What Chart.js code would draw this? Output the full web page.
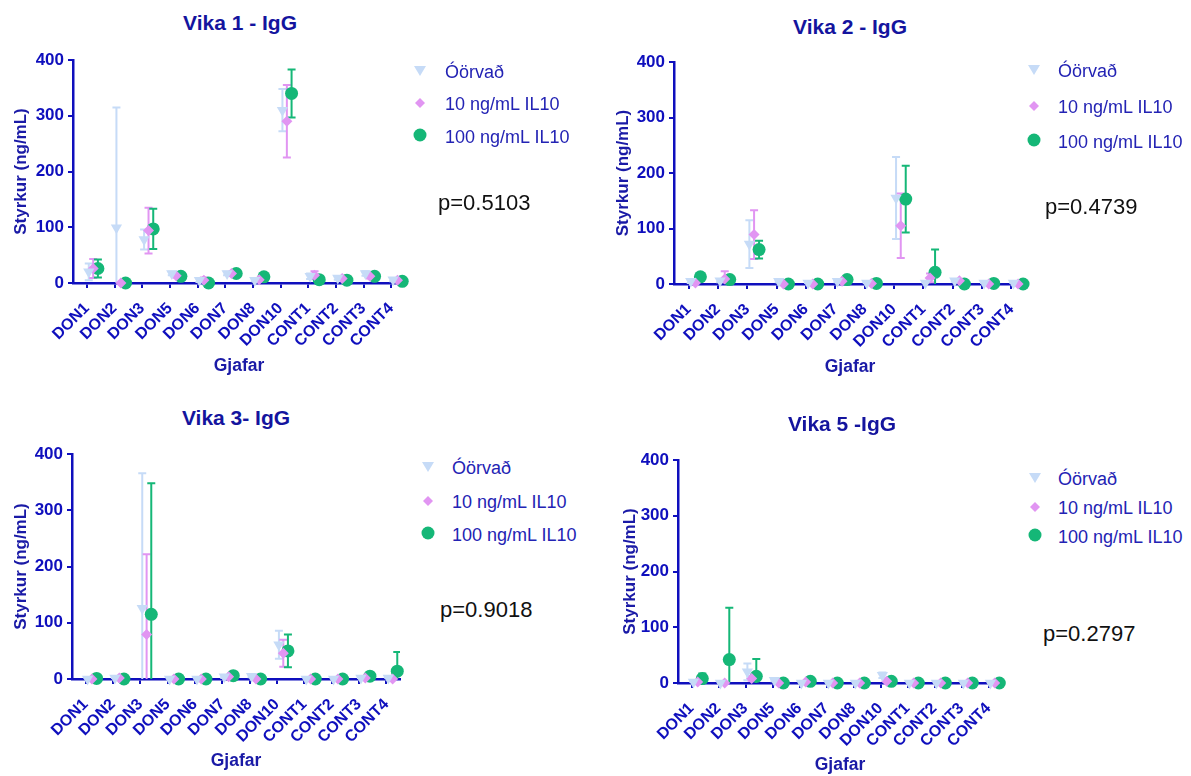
<!DOCTYPE html>
<html lang="is">
<head>
  <meta charset="UTF-8" />
  <title>IgG - Vika 1, 2, 3, 5</title>
  <script src="https://cdn.jsdelivr.net/npm/chart.js"></script>
  <style>
    * { box-sizing: border-box; }
    body {
      margin: 0;
      background: #ffffff;
      font-family: 'Liberation Sans', Arial, sans-serif;
    }
    #wrap {
      position: relative;
      width: 1191px;
      height: 776px;
      overflow: hidden;
    }
    canvas { position: absolute; }
    .title {
      position: absolute;
      transform: translate(-50%, -50%);
      font-size: 21px;
      font-weight: bold;
      color: #14149e;
      white-space: nowrap;
    }
    .leg {
      position: absolute;
      transform: translateY(-50%);
      font-size: 18px;
      color: #2323b4;
      white-space: nowrap;
    }
    .mark {
      position: absolute;
      transform: translate(-50%, -50%);
    }
    .pval {
      position: absolute;
      transform: translateY(-50%);
      font-size: 22px;
      color: #111;
      white-space: nowrap;
    }
  </style>
</head>
<body>
  <div id="wrap"></div>

  <script>
    const categories = ['DON1', 'DON2', 'DON3', 'DON5', 'DON6', 'DON7', 'DON8', 'DON10', 'CONT1', 'CONT2', 'CONT3', 'CONT4'];
    const seriesNames = ['Óörvað', '10 ng/mL IL10', '100 ng/mL IL10'];
    const yTicks = [0, 100, 200, 300, 400];

    // Vika 1 (mean and SD)
    const v1Oorvad    = [20, 99, 78, 17, 5, 17, 5, 310, 12, 9, 17, 6];
    const v1OorvadSd  = [15, 216, 18, 3, 3, 3, 2, 38, 5, 3, 4, 3];
    const v1Il10      = [26, 0, 94, 13, 5, 17, 6, 290, 14, 8, 12, 5];
    const v1Il10Sd    = [17, 0, 41, 3, 5, 3, 3, 65, 7, 3, 4, 2];
    const v1Il100     = [26, 0, 97, 12, 0, 17, 11, 340, 6, 5, 12, 3];
    const v1Il100Sd   = [16, 0, 36, 2, 0, 2, 2, 43, 2, 1, 2, 1];

    // Vika 2
    const v2Oorvad    = [5, 6, 72, 5, 2, 5, 2, 155, 2, 6, 2, 2];
    const v2OorvadSd  = [3, 3, 43, 2, 1, 2, 1, 74, 3, 2, 1, 1];
    const v2Il10      = [2, 9, 89, 0, 0, 5, 1, 105, 11, 6, 0, 0];
    const v2Il10Sd    = [2, 14, 44, 0, 0, 2, 1, 58, 8, 2, 0, 0];
    const v2Il100     = [13, 8, 62, 0, 0, 8, 1, 153, 21, 0, 1, 0];
    const v2Il100Sd   = [2, 2, 16, 0, 0, 1, 1, 60, 41, 0, 0, 0];

    // Vika 3
    const v3Oorvad    = [0, 2, 126, 0, 0, 4, 5, 61, 0, 0, 2, 2];
    const v3OorvadSd  = [1, 1, 240, 0, 0, 2, 2, 25, 0, 0, 1, 1];
    const v3Il10      = [0, 2, 79, 0, 0, 4, 0, 46, 0, 0, 2, 0];
    const v3Il10Sd    = [0, 2, 143, 0, 0, 2, 0, 24, 0, 0, 1, 0];
    const v3Il100     = [1, 0, 115, 0, 0, 6, 0, 50, 0, 0, 5, 14];
    const v3Il100Sd   = [1, 0, 233, 0, 0, 2, 0, 29, 0, 0, 2, 34];

    // Vika 5
    const v5Oorvad    = [2, 0, 20, 5, 0, 0, 0, 14, 0, 0, 0, 0];
    const v5OorvadSd  = [2, 0, 15, 2, 0, 0, 0, 5, 0, 0, 0, 0];
    const v5Il10      = [2, 0, 8, 0, 2, 0, 0, 3, 0, 0, 0, 0];
    const v5Il10Sd    = [1, 0, 4, 0, 1, 0, 0, 1, 0, 0, 0, 0];
    const v5Il100     = [8, 42, 12, 0, 3, 0, 0, 3, 0, 0, 0, 0];
    const v5Il100Sd   = [9, 93, 31, 0, 4, 0, 0, 1, 0, 0, 0, 0];

    const pValues = ['p=0.5103', 'p=0.4739', 'p=0.9018', 'p=0.2797'];
    const titles = ['Vika 1 - IgG', 'Vika 2 - IgG', 'Vika 3- IgG', 'Vika 5 -IgG'];

    const colors = ['#c6dbf7', '#e195f2', '#15b777'];
    const styles = ['triangle', 'rectRot', 'circle'];
    const radii = [6.5, 5.5, 6.5];
    const rotations = [180, 0, 0];
    const offsets = [0.07, 0.23, 0.4];
    const axisBlue = '#0f0fbd';
    const textBlue = '#1a1aa6';
    const fontFam = "'Liberation Sans', Arial";

    const panels = [
      { left: 0, top: 40, width: 420, height: 345, area: { left: 73, top: 60, right: 405, bottom: 283 },
        yPad: 11, xPad: 8, titleX: 240, titleY: 23, markX: 420, textX: 445, legY: [72, 104, 137], pX: 438, pY: 203,
        series: [[v1Oorvad, v1OorvadSd], [v1Il10, v1Il10Sd], [v1Il100, v1Il100Sd]] },
      { left: 600, top: 40, width: 440, height: 345, area: { left: 674, top: 62, right: 1026, bottom: 284 },
        yPad: 13, xPad: 7, titleX: 850, titleY: 27, markX: 1034, textX: 1058, legY: [71, 107, 142], pX: 1045, pY: 207,
        series: [[v2Oorvad, v2OorvadSd], [v2Il10, v2Il10Sd], [v2Il100, v2Il100Sd]] },
      { left: 0, top: 430, width: 420, height: 346, area: { left: 72, top: 454, right: 400, bottom: 679 },
        yPad: 11, xPad: 4, titleX: 236, titleY: 418, markX: 428, textX: 452, legY: [468, 502, 535], pX: 440, pY: 610,
        series: [[v3Oorvad, v3OorvadSd], [v3Il10, v3Il10Sd], [v3Il100, v3Il100Sd]] },
      { left: 600, top: 430, width: 420, height: 346, area: { left: 678, top: 460, right: 1002, bottom: 683 },
        yPad: 20, xPad: 0, titleX: 842, titleY: 424, markX: 1035, textX: 1058, legY: [479, 508, 537], pX: 1043, pY: 634,
        series: [[v5Oorvad, v5OorvadSd], [v5Il10, v5Il10Sd], [v5Il100, v5Il100Sd]] }
    ];

    // error bars drawn under the markers, cut at the plot area
    const errorBars = {
      id: 'errorBars',
      beforeDatasetsDraw(chart) {
        const { ctx, chartArea, scales: { y } } = chart;
        ctx.save();
        ctx.beginPath();
        ctx.rect(chartArea.left, chartArea.top - 4, chartArea.right - chartArea.left, chartArea.bottom - chartArea.top + 4);
        ctx.clip();
        chart.data.datasets.forEach((ds, di) => {
          const meta = chart.getDatasetMeta(di);
          ctx.strokeStyle = ds.borderColor;
          ctx.lineWidth = 2;
          meta.data.forEach((pt, i) => {
            const sd = ds.errors[i];
            if (!sd) return;
            const v = ds.data[i].y;
            const yt = y.getPixelForValue(v + sd);
            const yb = y.getPixelForValue(v - sd);
            const x = pt.x;
            ctx.beginPath();
            ctx.moveTo(x, yt); ctx.lineTo(x, yb);
            ctx.moveTo(x - 4, yt); ctx.lineTo(x + 4, yt);
            ctx.moveTo(x - 4, yb); ctx.lineTo(x + 4, yb);
            ctx.stroke();
          });
        });
        ctx.restore();
      }
    };

    function markerSvg(k) {
      const c = colors[k];
      if (k === 0) return `<svg width="14" height="12"><polygon points="1,1 13,1 7,11" fill="${c}"/></svg>`;
      if (k === 1) return `<svg width="12" height="12"><polygon points="6,1 11,6 6,11 1,6" fill="${c}"/></svg>`;
      return `<svg width="14" height="14"><circle cx="7" cy="7" r="6.5" fill="${c}"/></svg>`;
    }

    const wrap = document.getElementById('wrap');

    panels.forEach((p, n) => {
      const canvas = document.createElement('canvas');
      canvas.width = p.width;
      canvas.height = p.height;
      canvas.style.left = p.left + 'px';
      canvas.style.top = p.top + 'px';
      wrap.appendChild(canvas);

      const yWidth = p.area.left - p.left;
      const xHeight = p.top + p.height - p.area.bottom;

      new Chart(canvas, {
        type: 'scatter',
        data: {
          datasets: p.series.map(([vals, sds], k) => ({
            label: seriesNames[k],
            data: vals.map((v, i) => ({ x: i + offsets[k], y: v })),
            errors: sds,
            backgroundColor: colors[k],
            borderColor: colors[k],
            borderWidth: 0,
            pointStyle: styles[k],
            pointRadius: radii[k],
            pointRotation: rotations[k],
            clip: false
          }))
        },
        options: {
          responsive: false,
          animation: false,
          events: [],
          layout: { padding: { left: 0, top: p.area.top - p.top, right: p.left + p.width - p.area.right, bottom: 0 } },
          plugins: { legend: { display: false }, tooltip: { enabled: false } },
          scales: {
            x: {
              type: 'linear',
              min: -0.5,
              max: 11.5,
              afterBuildTicks: scale => { scale.ticks = categories.map((c, i) => ({ value: i })); },
              afterFit: scale => { scale.height = xHeight; },
              ticks: {
                callback: v => categories[v],
                autoSkip: false,
                minRotation: 45,
                maxRotation: 45,
                padding: 11,
                color: axisBlue,
                font: { family: fontFam, size: 16, weight: 'bold' }
              },
              grid: { drawOnChartArea: false, drawTicks: true, tickLength: 5, color: axisBlue, lineWidth: 2 },
              border: { color: axisBlue, width: 2.5 },
              title: {
                display: true,
                text: 'Gjafar',
                color: textBlue,
                padding: { top: 0, bottom: p.xPad },
                font: { family: fontFam, size: 17.5, weight: 'bold' }
              }
            },
            y: {
              min: 0,
              max: 400,
              afterBuildTicks: scale => { scale.ticks = yTicks.map(v => ({ value: v })); },
              afterFit: scale => { scale.width = yWidth; },
              ticks: {
                padding: 4,
                color: axisBlue,
                font: { family: fontFam, size: 17, weight: 'bold' }
              },
              grid: { drawOnChartArea: false, drawTicks: true, tickLength: 5, color: axisBlue, lineWidth: 2 },
              border: { color: axisBlue, width: 2.5 },
              title: {
                display: true,
                text: 'Styrkur (ng/mL)',
                color: textBlue,
                padding: { top: p.yPad, bottom: 0 },
                font: { family: fontFam, size: 17, weight: 'bold' }
              }
            }
          }
        },
        plugins: [errorBars]
      });

      const t = document.createElement('div');
      t.className = 'title';
      t.textContent = titles[n];
      t.style.left = p.titleX + 'px';
      t.style.top = p.titleY + 'px';
      wrap.appendChild(t);

      seriesNames.forEach((name, k) => {
        const m = document.createElement('div');
        m.className = 'mark';
        m.innerHTML = markerSvg(k);
        m.style.left = p.markX + 'px';
        m.style.top = p.legY[k] + 'px';
        wrap.appendChild(m);
        const l = document.createElement('div');
        l.className = 'leg';
        l.textContent = name;
        l.style.left = p.textX + 'px';
        l.style.top = p.legY[k] + 'px';
        wrap.appendChild(l);
      });

      const pv = document.createElement('div');
      pv.className = 'pval';
      pv.textContent = pValues[n];
      pv.style.left = p.pX + 'px';
      pv.style.top = p.pY + 'px';
      wrap.appendChild(pv);
    });
  </script>
</body>
</html>
